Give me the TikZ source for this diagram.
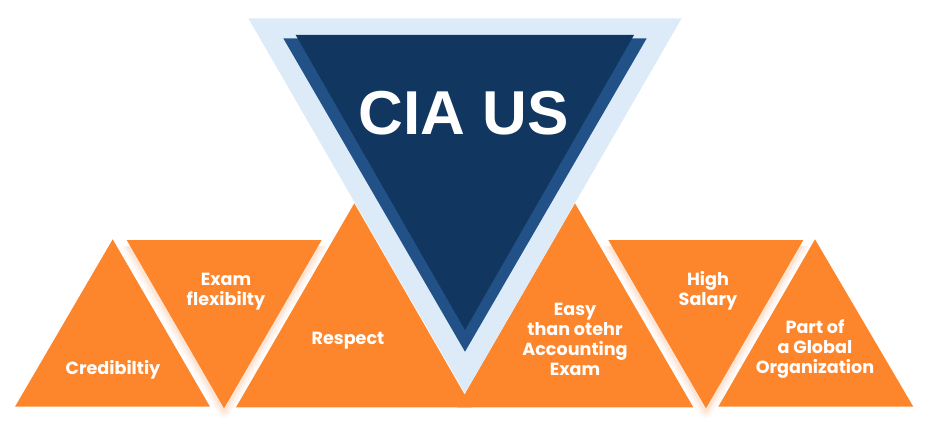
\documentclass[tikz,border=0pt]{standalone}
\usepackage{fontspec}
\newfontfamily\popfont{Poppins}
\newfontfamily\ciafont{Liberation Sans}
\definecolor{tri}{HTML}{FD852B}
\definecolor{glowc}{HTML}{F7A26A}
\definecolor{navy}{HTML}{113760}
\definecolor{midblue}{HTML}{225187}
\definecolor{lightblue}{HTML}{DDEBF9}
\tikzset{
  label/.style={font=\popfont\bfseries\fontsize{17.6}{20}\selectfont, text=white, align=center, inner sep=0pt},
  glowline/.style={draw=glowc, line join=round},
}
\begin{document}
\begin{tikzpicture}[x=1pt,y=-1pt]
\useasboundingbox (0,0) rectangle (929,428);
% upright orange triangles
\fill[tri] (112.7,239.3) -- (210,406.7) -- (15,406.7) -- cycle;
\fill[tri] (354.3,203.3) -- (472,407.3) -- (236,407.3) -- cycle;
\fill[tri] (575,203.3) -- (693.3,407.3) -- (457,407.3) -- cycle;
\fill[tri] (815,239.3) -- (913.3,406.7) -- (718.3,406.7) -- cycle;
% glows of inverted triangles
\begin{scope}
\clip (0,246) rectangle (929,428);
\foreach \w/\o in {14/0.05,10/0.07,6/0.09,3/0.12}{
  \draw[glowline, line width=\w pt, draw opacity=\o, yshift=-3pt] (126.7,240) -- (321.7,240) -- (224,408.3) -- cycle;
  \draw[glowline, line width=\w pt, draw opacity=\o, yshift=-3pt] (608.3,240) -- (803.3,240) -- (706,408.3) -- cycle;
}
\end{scope}
% inverted orange triangles
\fill[tri] (126.7,240) -- (321.7,240) -- (224,408.3) -- cycle;
\fill[tri] (608.3,240) -- (803.3,240) -- (706,408.3) -- cycle;
% central triangles
\fill[lightblue] (248.3,18.3) -- (681.7,18.3) -- (465,393.3) -- cycle;
\fill[midblue] (283.3,38.3) -- (646.7,38.3) -- (465,351.7) -- cycle;
\fill[navy] (295.7,35) -- (634,35) -- (465,330) -- cycle;
% texts
\node[font=\ciafont\bfseries\fontsize{62}{62}\selectfont, text=white, inner sep=0pt] (cia) at (464,113) {CIA US};
\node[label] (cred) at (113,370) {Credibiltiy};
\node[label] (exam) at (226,292) {Exam\\flexibilty};
\node[label] (resp) at (348,341) {Respect};
\node[label] (easy) at (575,339) {Easy\\than otehr\\Accounting\\Exam};
\node[label] (high) at (708,291) {High\\Salary};
\node[label] (part) at (815,349) {Part of\\a Global\\Organization};
\end{tikzpicture}
\end{document}
